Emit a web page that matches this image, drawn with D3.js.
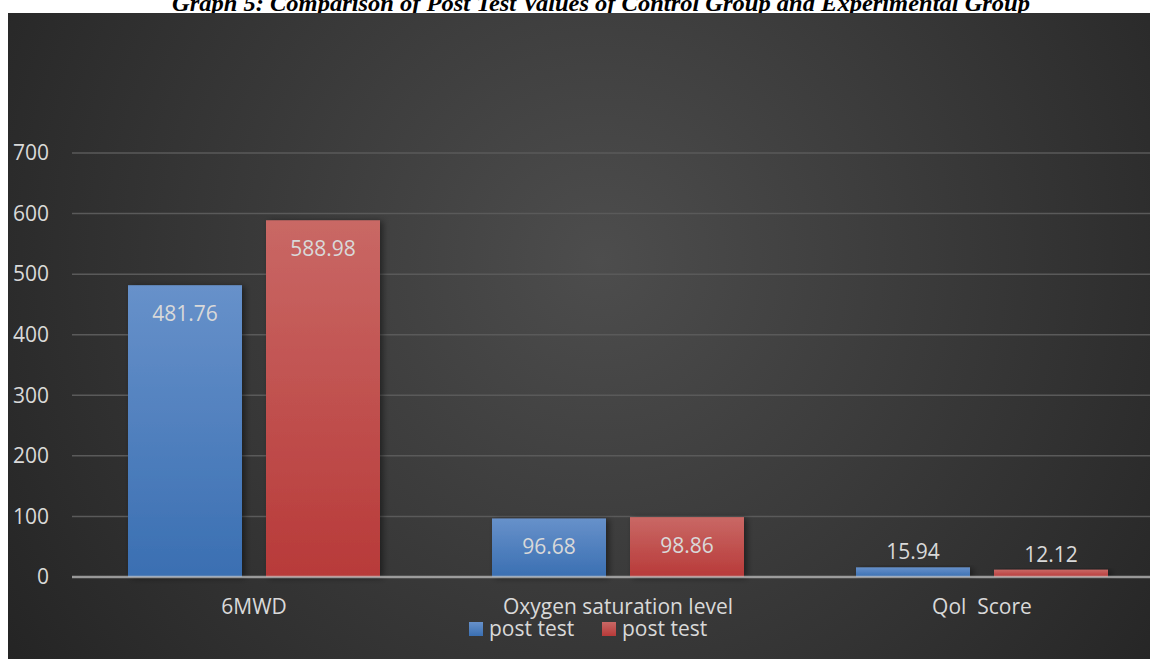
<!DOCTYPE html>
<html>
<head>
<meta charset="utf-8">
<script src="https://cdn.jsdelivr.net/npm/d3@7"></script>
<style>
  body { margin: 0; background: #fff; }
  svg { display: block; }
</style>
</head>
<body>
<div id="chart"></div>
<script>
// chart data
const categories = ['6MWD', 'Oxygen saturation level', 'Qol  Score'];
const seriesNames = ['post test', 'post test'];
const controlValues = [481.76, 96.68, 15.94];
const experimentalValues = [588.98, 98.86, 12.12];
const yTicks = [0, 100, 200, 300, 400, 500, 600, 700];
const titleText = 'Graph 5: Comparison of Post Test Values of Control Group and Experimental Group';

const width = 1150;
const height = 659;
const plot = { left: 72, right: 1164, top: 153, bottom: 577 };

const svg = d3.select('#chart').append('svg')
  .attr('width', width)
  .attr('height', height);

const defs = svg.append('defs');

// panel background
const bg = defs.append('radialGradient')
  .attr('id', 'bg')
  .attr('gradientUnits', 'userSpaceOnUse')
  .attr('cx', 600).attr('cy', 260).attr('r', 720);
bg.append('stop').attr('offset', '0%').attr('stop-color', '#4d4d4d');
bg.append('stop').attr('offset', '100%').attr('stop-color', '#242424');

const blueGrad = defs.append('linearGradient')
  .attr('id', 'blueGrad').attr('x1', 0).attr('y1', 0).attr('x2', 0).attr('y2', 1);
blueGrad.append('stop').attr('offset', '0%').attr('stop-color', '#6791ca');
blueGrad.append('stop').attr('offset', '100%').attr('stop-color', '#3a6fb2');

const redGrad = defs.append('linearGradient')
  .attr('id', 'redGrad').attr('x1', 0).attr('y1', 0).attr('x2', 0).attr('y2', 1);
redGrad.append('stop').attr('offset', '0%').attr('stop-color', '#c96865');
redGrad.append('stop').attr('offset', '100%').attr('stop-color', '#b83a39');

const shadow = defs.append('filter')
  .attr('id', 'shadow')
  .attr('x', '-20%').attr('y', '-20%').attr('width', '140%').attr('height', '140%');
shadow.append('feDropShadow')
  .attr('dx', 3).attr('dy', 1).attr('stdDeviation', 3)
  .attr('flood-color', '#000').attr('flood-opacity', 0.45);

// title (partly hidden behind the panel, like the source)
svg.append('text')
  .attr('x', 601)
  .attr('y', 11)
  .attr('text-anchor', 'middle')
  .attr('textLength', 858)
  .attr('lengthAdjust', 'spacingAndGlyphs')
  .style('font-family', '"Liberation Serif", "Times New Roman", serif')
  .style('font-weight', 'bold')
  .style('font-style', 'italic')
  .style('font-size', '24px')
  .attr('fill', '#000')
  .text(titleText);

svg.append('rect')
  .attr('x', 8).attr('y', 13)
  .attr('width', width - 8).attr('height', height - 13)
  .attr('fill', 'url(#bg)');

// scales
const x0 = d3.scaleBand()
  .domain(categories)
  .range([plot.left, plot.right])
  .paddingInner(112 / 364)
  .paddingOuter(56 / 364);

const x1 = d3.scaleBand()
  .domain([0, 1])
  .range([0, x0.bandwidth()])
  .paddingInner(24 / 138);

const y = d3.scaleLinear()
  .domain([0, 700])
  .range([plot.bottom, plot.top]);

const font = '"Open Sans", "Noto Sans", sans-serif';
const textColor = '#d9d9d9';

// gridlines
svg.append('g')
  .selectAll('line')
  .data(yTicks.filter((t) => t > 0))
  .join('line')
  .attr('x1', plot.left).attr('x2', width)
  .attr('y1', (d) => y(d)).attr('y2', (d) => y(d))
  .attr('stroke', '#5a5a5a')
  .attr('stroke-width', 1.5);

// y axis labels
const yAxis = svg.append('g')
  .attr('transform', `translate(${plot.left}, 0)`)
  .call(d3.axisLeft(y).tickValues(yTicks).tickSize(0).tickPadding(23));
yAxis.select('.domain').remove();
yAxis.selectAll('text')
  .attr('fill', textColor)
  .style('font-family', font)
  .style('font-size', '21px');

// bars
const rows = categories.map((c, i) => ({
  category: c,
  values: [controlValues[i], experimentalValues[i]]
}));
const fills = ['url(#blueGrad)', 'url(#redGrad)'];

const groups = svg.append('g')
  .selectAll('g')
  .data(rows)
  .join('g')
  .attr('transform', (d) => `translate(${x0(d.category)}, 0)`);

groups.selectAll('rect')
  .data((d) => d.values.map((v, k) => ({ v, k })))
  .join('rect')
  .attr('x', (d) => x1(d.k))
  .attr('y', (d) => y(d.v))
  .attr('width', x1.bandwidth())
  .attr('height', (d) => y(0) - y(d.v))
  .attr('fill', (d) => fills[d.k])
  .attr('filter', 'url(#shadow)');

groups.selectAll('text')
  .data((d) => d.values.map((v, k) => ({ v, k })))
  .join('text')
  .attr('x', (d) => x1(d.k) + x1.bandwidth() / 2)
  .attr('y', (d) => (y(0) - y(d.v) > 45 ? y(d.v) + 36 : y(d.v) - 8))
  .attr('text-anchor', 'middle')
  .attr('fill', textColor)
  .style('font-family', font)
  .style('font-size', '21px')
  .text((d) => d.v.toFixed(2));

// zero line
svg.append('line')
  .attr('x1', plot.left).attr('x2', width)
  .attr('y1', y(0)).attr('y2', y(0))
  .attr('stroke', '#c8c8c8')
  .attr('stroke-opacity', 0.7)
  .attr('stroke-width', 2.5);

// category labels
svg.append('g')
  .selectAll('text')
  .data(categories)
  .join('text')
  .attr('x', (d) => x0(d) + x0.bandwidth() / 2)
  .attr('y', 614)
  .attr('text-anchor', 'middle')
  .attr('fill', textColor)
  .style('font-family', font)
  .style('font-size', '21px')
  .style('white-space', 'pre')
  .text((d) => d);

// legend
const legendX = [469, 602];
const legend = svg.append('g')
  .selectAll('g')
  .data(seriesNames)
  .join('g')
  .attr('transform', (d, i) => `translate(${legendX[i]}, 622)`);
legend.append('rect')
  .attr('width', 14).attr('height', 14)
  .attr('fill', (d, i) => fills[i]);
legend.append('text')
  .attr('x', 20).attr('y', 14)
  .attr('fill', textColor)
  .style('font-family', font)
  .style('font-size', '21px')
  .text((d) => d);
</script>
</body>
</html>
